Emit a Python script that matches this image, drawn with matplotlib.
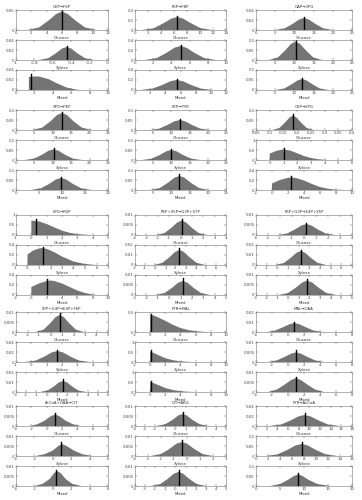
import numpy as np
import matplotlib.pyplot as plt
from matplotlib.ticker import FormatStrFormatter

# titre de chaque groupe (15 flux), 3 conditions par groupe
titles = ['G6P→F6P', 'F6P→FBP', 'GAP→3PG',
          '3PG→PEP', 'PEP→PYR', 'G6P→6PG',
          '6PG→R5P', 'R5P+X5P→G3P+S7P', 'F6P+G3P→E4P+X5P',
          'S7P+G3P→E4P+F6P', 'PYR→MAL', 'MAL→OAA',
          'AcCoA+OAA→CIT', 'CIT→AKG', 'PYR→AcCoA']
conditions = ['Glucose', 'Xylose', 'Mixed']

# pour chaque groupe: abscisses, hauteurs, mediane, hauteur du trait,
# axe x (min, max, pas), axe y (max, pas)
g01_x = [[1.5, 3, 4.2, 5.25, 6, 6.75, 7.8, 9, 10.5],
         [-0.75, -0.65, -0.57, -0.5, -0.45, -0.4, -0.33, -0.25, -0.15],
         [1.4, 2, 2.5, 3.5, 4.5, 5.5, 6.5, 7]]
g01_y = [[0, 0.0064, 0.023, 0.040, 0.046, 0.040, 0.023, 0.0064, 0],
         [0, 0.0036, 0.013, 0.023, 0.026, 0.023, 0.013, 0.0036, 0],
         [0.026, 0.027, 0.027, 0.022, 0.013, 0.005, 0.001, 0]]
g01_med = [6, -0.45, 1.6]
g01_top = [0.049, 0.028, 0.032]
g01_xr = [(0, 12, 2), (-1, 0, 0.2), (0, 10, 2)]
g01_yr = [(0.05, 0.05), (0.04, 0.02), (0.04, 0.02)]

g02_x = [[1.1, 2.9, 4.3, 5.6, 6.5, 7.4, 8.7, 10.1, 11.9],
         [1.1, 2.4, 3.44, 4.35, 5, 5.65, 6.56, 7.6, 8.9],
         [0.7, 2.3, 3.6, 4.7, 5.5, 6.3, 7.4, 8.7, 10.3]]
g02_y = [[0, 0.018, 0.065, 0.114, 0.13, 0.114, 0.065, 0.018, 0],
         [0, 0.039, 0.14, 0.246, 0.28, 0.246, 0.14, 0.039, 0],
         [0, 0.028, 0.1, 0.176, 0.2, 0.176, 0.1, 0.028, 0]]
g02_med = [6.5, 5, 5.5]
g02_top = [0.145, 0.31, 0.22]
g02_xr = [(0, 14, 2), (0, 10, 2), (0, 12, 2)]
g02_yr = [(0.2, 0.1), (0.4, 0.2), (0.4, 0.2)]

g03_x = [[5, 7.5, 9.5, 11.25, 12.5, 13.75, 15.5, 17.5, 20],
         [3.4, 5.7, 7.5, 9.15, 10.3, 11.45, 13.1, 14.9, 17.2],
         [5.1, 7.4, 9.2, 10.85, 12, 13.15, 14.8, 16.6, 18.9]]
g03_y = [[0, 0.0034, 0.012, 0.021, 0.024, 0.021, 0.012, 0.0034, 0],
         [0, 0.013, 0.046, 0.081, 0.092, 0.081, 0.046, 0.013, 0],
         [0, 0.0077, 0.0275, 0.048, 0.055, 0.048, 0.0275, 0.0077, 0]]
g03_med = [12.5, 10.3, 12]
g03_top = [0.026, 0.1, 0.06]
g03_xr = [(0, 25, 5), (0, 25, 5), (0, 25, 5)]
g03_yr = [(0.04, 0.02), (0.1, 0.05), (0.1, 0.05)]

g04_x = [[4.4, 7.1, 9.3, 11.15, 12.5, 13.85, 15.7, 17.9, 20.6],
         [2.4, 5, 7.1, 8.9, 10.2, 11.5, 13.3, 15.4, 18],
         [3.2, 5.4, 7.2, 8.7, 9.8, 10.9, 12.4, 14.2, 16.4]]
g04_y = [[0, 0.012, 0.0425, 0.075, 0.085, 0.075, 0.0425, 0.012, 0],
         [0, 0.0074, 0.0265, 0.047, 0.053, 0.047, 0.0265, 0.0074, 0],
         [0, 0.0084, 0.03, 0.053, 0.06, 0.053, 0.03, 0.0084, 0]]
g04_med = [12.5, 10.2, 9.8]
g04_top = [0.09, 0.058, 0.065]
g04_xr = [(0, 25, 5), (0, 25, 5), (0, 20, 5)]
g04_yr = [(0.1, 0.05), (0.1, 0.05), (0.1, 0.05)]

g05_x = [[4, 6.7, 8.9, 10.9, 12.3, 13.7, 15.7, 17.9, 20.6],
         [2, 4.6, 6.8, 8.65, 10, 11.35, 13.2, 15.4, 18],
         [4.1, 6.8, 8.96, 10.85, 12.2, 13.55, 15.44, 17.6, 20.3]]
g05_y = [[0, 0.007, 0.025, 0.044, 0.05, 0.044, 0.025, 0.007, 0],
         [0, 0.007, 0.025, 0.044, 0.05, 0.044, 0.025, 0.007, 0],
         [0, 0.0098, 0.035, 0.062, 0.07, 0.062, 0.035, 0.0098, 0]]
g05_med = [12.3, 10, 12.2]
g05_top = [0.056, 0.056, 0.078]
g05_xr = [(0, 25, 5), (0, 25, 5), (0, 25, 5)]
g05_yr = [(0.1, 0.05), (0.1, 0.05), (0.1, 0.05)]

g06_x = [[0.11, 0.135, 0.155, 0.1725, 0.185, 0.1975, 0.215, 0.235, 0.26],
         [0, 0.5, 1, 1.5, 2, 2.5, 3, 3.5, 4.2],
         [0, 1, 2, 2.5, 3, 4, 5, 6, 7, 8, 9]]
g06_y = [[0, 0.01, 0.036, 0.063, 0.072, 0.063, 0.036, 0.01, 0],
         [0.32, 0.46, 0.53, 0.47, 0.34, 0.2, 0.1, 0.04, 0],
         [0.13, 0.2, 0.245, 0.25, 0.24, 0.19, 0.12, 0.06, 0.025, 0.007, 0]]
g06_med = [0.185, 1.05, 2.4]
g06_top = [0.078, 0.62, 0.28]
g06_xr = [(0.05, 0.4, 0.05), (-1, 6, 1), (-2, 10, 2)]
g06_yr = [(0.1, 0.05), (1, 0.5), (0.4, 0.2)]

g07_x = [[0, 0.5, 1, 1.5, 2, 2.5, 3, 3.5, 4],
         [0, 0.5, 1, 1.3, 1.7, 2.3, 3, 4, 5, 6],
         [0, 1, 2, 2.5, 3, 4, 5, 6, 7, 8, 8.5]]
g07_y = [[0.72, 0.68, 0.55, 0.38, 0.22, 0.11, 0.045, 0.015, 0],
         [0.21, 0.29, 0.33, 0.34, 0.32, 0.26, 0.17, 0.07, 0.02, 0],
         [0.16, 0.23, 0.28, 0.29, 0.28, 0.23, 0.16, 0.09, 0.04, 0.01, 0]]
g07_med = [0.3, 1.35, 2.0]
g07_top = [0.82, 0.36, 0.32]
g07_xr = [(-1, 5, 1), (-1, 7, 1), (-2, 10, 2)]
g07_yr = [(1, 0.5), (0.4, 0.2), (0.4, 0.2)]

g08_x = [[-2.15, -1.4, -0.8, -0.28, 0.1, 0.48, 1.0, 1.6, 2.35],
         [-0.15, 0.7, 1.38, 1.98, 2.4, 2.82, 3.42, 4.1, 4.95],
         [-1.2, -0.4, 0.24, 0.8, 1.2, 1.6, 2.16, 2.8, 3.6]]
g08_y = [[0, 0.001, 0.0036, 0.0063, 0.0072, 0.0063, 0.0036, 0.001, 0],
         [0, 0.0021, 0.0075, 0.0132, 0.015, 0.0132, 0.0075, 0.0021, 0],
         [0, 0.001, 0.0035, 0.0062, 0.007, 0.0062, 0.0035, 0.001, 0]]
g08_med = [0.1, 2.4, 1.2]
g08_top = [0.0078, 0.017, 0.0085]
g08_xr = [(-4, 4, 1), (-2, 7, 1), (-3, 5, 1)]
g08_yr = [(0.01, 0.005), (0.02, 0.01), (0.01, 0.005)]

g09_x = [[-2.2, -1.4, -0.76, -0.2, 0.2, 0.6, 1.16, 1.8, 2.6],
         [-0.2, 0.6, 1.24, 1.8, 2.2, 2.6, 3.16, 3.8, 4.6],
         [-0.9, 0.0, 0.72, 1.35, 1.8, 2.25, 2.88, 3.6, 4.5]]
g09_y = [[0, 0.0008, 0.00275, 0.0048, 0.0055, 0.0048, 0.00275, 0.0008, 0],
         [0, 0.002, 0.007, 0.0123, 0.014, 0.0123, 0.007, 0.002, 0],
         [0, 0.001, 0.0036, 0.0063, 0.0072, 0.0063, 0.0036, 0.001, 0]]
g09_med = [0.2, 2.2, 1.8]
g09_top = [0.006, 0.0155, 0.0082]
g09_xr = [(-4, 4, 1), (-2, 7, 1), (-3, 6, 1)]
g09_yr = [(0.01, 0.005), (0.02, 0.01), (0.01, 0.005)]

g10_x = [[-1.3, -0.6, -0.04, 0.45, 0.8, 1.15, 1.64, 2.2, 2.9],
         [-0.4, 0.3, 0.86, 1.35, 1.7, 2.05, 2.54, 3.1, 3.8],
         [-0.65, 0.1, 0.7, 1.22, 1.6, 1.98, 2.5, 3.1, 3.85]]
g10_y = [[0, 0.0012, 0.0043, 0.0075, 0.0085, 0.0075, 0.0043, 0.0012, 0],
         [0, 0.003, 0.011, 0.0194, 0.022, 0.0194, 0.011, 0.003, 0],
         [0, 0.0015, 0.0055, 0.0097, 0.011, 0.0097, 0.0055, 0.0015, 0]]
g10_med = [0.8, 1.7, 1.6]
g10_top = [0.0095, 0.025, 0.013]
g10_xr = [(-3, 5, 1), (-1, 5, 1), (-3, 6, 1)]
g10_yr = [(0.01, 0.005), (0.04, 0.02), (0.02, 0.01)]

g11_x = [[0, 0.5, 1, 2, 3, 4, 5, 6, 7, 7.5],
         [0, 0.5, 1, 1.5, 2, 3, 4, 5, 5.5],
         [0, 0.5, 1, 1.5, 2, 3, 4, 5, 6]]
g11_y = [[0.43, 0.41, 0.37, 0.28, 0.18, 0.1, 0.05, 0.02, 0.005, 0],
         [0.52, 0.45, 0.36, 0.27, 0.19, 0.09, 0.035, 0.01, 0],
         [0.5, 0.44, 0.36, 0.28, 0.2, 0.1, 0.04, 0.012, 0]]
g11_med = [0.1, 0.15, 0.15]
g11_top = [0.46, 0.6, 0.57]
g11_xr = [(-2, 10, 2), (-2, 10, 2), (-2, 10, 2)]
g11_yr = [(0.5, 0.5), (1, 0.5), (1, 0.5)]

g12_x = [[-2.6, -1.6, -0.7, 0.2, 0.8, 1.4, 2.3, 3.2, 4.4],
         [-2.5, -1.4, -0.5, 0.4, 1.0, 1.6, 2.5, 3.4, 4.5],
         [-2.5, -1.4, -0.5, 0.4, 1.0, 1.6, 2.5, 3.4, 4.5]]
g12_y = [[0, 0.0015, 0.0045, 0.0078, 0.009, 0.0078, 0.0045, 0.0015, 0],
         [0, 0.0008, 0.0024, 0.0042, 0.0048, 0.0042, 0.0024, 0.0008, 0],
         [0, 0.0012, 0.0035, 0.006, 0.007, 0.006, 0.0035, 0.0012, 0]]
g12_med = [0.8, 1.0, 1.0]
g12_top = [0.0105, 0.0058, 0.0075]
g12_xr = [(-4, 8, 2), (-4, 8, 2), (-4, 8, 2)]
g12_yr = [(0.02, 0.01), (0.01, 0.005), (0.01, 0.005)]

g13_x = [[-2.2, -1.2, -0.3, 0.5, 1.1, 1.7, 2.5, 3.4, 4.4],
         [-1.9, -0.9, 0.0, 0.6, 1.0, 1.5, 2.3, 3.2, 4.3],
         [-2.0, -1.1, -0.35, 0.15, 0.5, 0.85, 1.4, 2.1, 3.1]]
g13_y = [[0, 0.0009, 0.0026, 0.0048, 0.0058, 0.0048, 0.0026, 0.0009, 0],
         [0, 0.0009, 0.0027, 0.005, 0.006, 0.005, 0.0027, 0.0009, 0],
         [0, 0.0011, 0.0035, 0.0065, 0.0074, 0.0065, 0.0035, 0.0011, 0]]
g13_med = [1.1, 0.9, 0.4]
g13_top = [0.0065, 0.0068, 0.008]
g13_xr = [(-4, 8, 2), (-4, 6, 2), (-4, 6, 2)]
g13_yr = [(0.01, 0.005), (0.01, 0.005), (0.01, 0.005)]

g14_x = [[-1.9, -1.0, -0.3, 0.28, 0.7, 1.12, 1.7, 2.4, 3.3],
         [-2.8, -2.0, -1.36, -0.8, -0.4, 0.0, 0.56, 1.2, 2.0],
         [-2.4, -1.5, -0.78, -0.15, 0.3, 0.75, 1.38, 2.1, 3.0]]
g14_y = [[0, 0.0009, 0.003, 0.0053, 0.006, 0.0053, 0.003, 0.0009, 0],
         [0, 0.001, 0.0035, 0.0062, 0.007, 0.0062, 0.0035, 0.001, 0],
         [0, 0.001, 0.0035, 0.0062, 0.007, 0.0062, 0.0035, 0.001, 0]]
g14_med = [0.7, -0.4, 0.4]
g14_top = [0.0068, 0.0078, 0.0078]
g14_xr = [(-4, 5, 1), (-4, 3, 1), (-4, 5, 1)]
g14_yr = [(0.01, 0.005), (0.01, 0.005), (0.01, 0.005)]

g15_x = [[2.5, 4.7, 6.46, 8.0, 9.1, 10.2, 11.74, 13.5, 15.7],
         [1.6, 3.6, 5.2, 6.6, 7.6, 8.6, 10.0, 11.6, 13.6],
         [3.0, 5.0, 6.6, 7.9, 8.8, 9.7, 11.0, 12.8, 15.5]]
g15_y = [[0, 0.003, 0.011, 0.0194, 0.022, 0.0194, 0.011, 0.003, 0],
         [0, 0.0084, 0.03, 0.053, 0.06, 0.053, 0.03, 0.0084, 0],
         [0, 0.01, 0.03, 0.05, 0.058, 0.05, 0.03, 0.01, 0]]
g15_med = [9.1, 7.6, 8.7]
g15_top = [0.026, 0.068, 0.063]
g15_xr = [(0, 18, 2), (0, 16, 2), (0, 20, 5)]
g15_yr = [(0.04, 0.02), (0.1, 0.05), (0.1, 0.05)]

groups = [
    (g01_x, g01_y, g01_med, g01_top, g01_xr, g01_yr),
    (g02_x, g02_y, g02_med, g02_top, g02_xr, g02_yr),
    (g03_x, g03_y, g03_med, g03_top, g03_xr, g03_yr),
    (g04_x, g04_y, g04_med, g04_top, g04_xr, g04_yr),
    (g05_x, g05_y, g05_med, g05_top, g05_xr, g05_yr),
    (g06_x, g06_y, g06_med, g06_top, g06_xr, g06_yr),
    (g07_x, g07_y, g07_med, g07_top, g07_xr, g07_yr),
    (g08_x, g08_y, g08_med, g08_top, g08_xr, g08_yr),
    (g09_x, g09_y, g09_med, g09_top, g09_xr, g09_yr),
    (g10_x, g10_y, g10_med, g10_top, g10_xr, g10_yr),
    (g11_x, g11_y, g11_med, g11_top, g11_xr, g11_yr),
    (g12_x, g12_y, g12_med, g12_top, g12_xr, g12_yr),
    (g13_x, g13_y, g13_med, g13_top, g13_xr, g13_yr),
    (g14_x, g14_y, g14_med, g14_top, g14_xr, g14_yr),
    (g15_x, g15_y, g15_med, g15_top, g15_xr, g15_yr),
]

W, H = 362, 500
col_left = [16, 135, 256]
col_width = [92, 91, 96]
group_top = [10, 110, 215, 312, 406]
panel_h = 20
panel_step = 30

fs = 2.8


def draw_panel(ax, xs, ys, med, top, xr, yr, label):
    ax.fill_between(xs, ys, 0, facecolor='#747474', edgecolor='none')
    ax.plot([med, med], [0, top], color='black', lw=1.0)
    ax.set_xlim(xr[0], xr[1])
    ax.set_ylim(0, yr[0])
    # arrondi pour eviter les 2.2e-16
    ax.set_xticks(np.round(np.arange(xr[0], xr[1] + xr[2] / 2, xr[2]), 6))
    ax.set_yticks(np.round(np.arange(0, yr[0] + yr[1] / 2, yr[1]), 6))
    ax.xaxis.set_major_formatter(FormatStrFormatter('%g'))
    ax.yaxis.set_major_formatter(FormatStrFormatter('%g'))
    ax.tick_params(direction='in', length=1.2, width=0.3, labelsize=fs,
                   pad=1, top=True, right=True, colors='#444444')
    for s in ax.spines.values():
        s.set_linewidth(0.4)
        s.set_color('#777777')
    ax.set_xlabel(label, fontsize=fs, labelpad=0.5, color='#333333')


fig = plt.figure(figsize=(W / 100, H / 100), dpi=100)

for gi, (gx, gy, gmed, gtop, gxr, gyr) in enumerate(groups):
    row, col = divmod(gi, 3)
    for p in range(3):
        top_px = group_top[row] + p * panel_step
        rect = [col_left[col] / W, 1 - (top_px + panel_h) / H,
                col_width[col] / W, panel_h / H]
        ax = fig.add_axes(rect)
        draw_panel(ax, gx[p], gy[p], gmed[p], gtop[p], gxr[p], gyr[p],
                   conditions[p])
        if p == 0:
            ax.set_title(titles[gi], fontsize=fs, pad=1.5, color='#333333')

fig.savefig('out.png', dpi=100)
